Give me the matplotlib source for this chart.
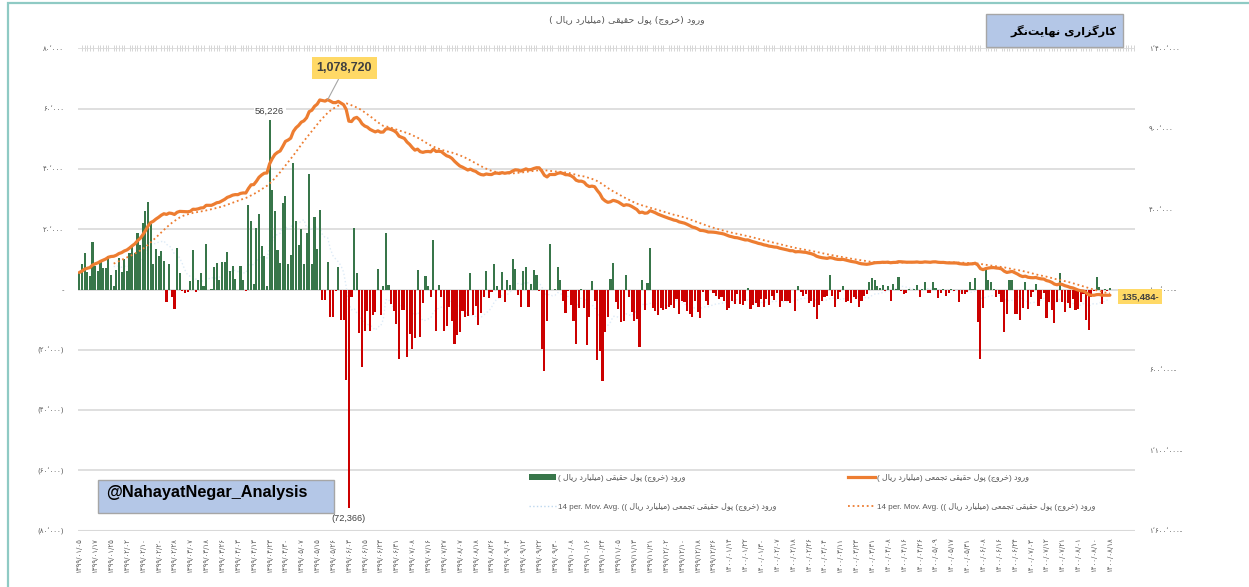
import numpy as np
import pandas as pd
import matplotlib
matplotlib.use('Agg')
import matplotlib.pyplot as plt
from matplotlib.patches import Patch, Rectangle
from matplotlib.lines import Line2D

plt.rcParams['font.family'] = ['DejaVu Sans']

# ---------------- data (billion rials, in thousands) ----------------
flow_k = [
    5.7, 8.6, 12, 5.7, 4.4, 15.6, 7.7, 6, 9.5, 7.2,
    7.2, 11, 4.7, 1.3, 6.5, 10.5, 5.7, 10.2, 6.3, 12,
    14, 12, 18.9, 14.8, 22, 26, 29, 21.8, 8.3, 13.5,
    11, 12.7, 9.4, -4.2, 8.5, -2.5, -6.4, 13.7, 5.4, -0.5,
    -1, -0.8, 2.8, 13, -0.8, 3.2, 5.6, 1.3, 15, -0.3,
    0.2, 7.4, 8.7, 3, 9, 9, 12.4, 6, 7.8, 3.4,
    -0.3, 7.8, 3, -0.4, 28, 22.6, 1.7, 20.5, 25, 14.3,
    11, 1.3, 56.226, 33, 25.9, 13.1, 8.7, 28.6, 31, 8.3,
    11.6, 42, 22.7, 14.7, 20.2, 8.5, 18.8, 38.4, 8.5, 24.2,
    13.3, 26.394,
    -3.6, -3.6, 9.2, -9.1, -9.1, -0.4, 7.5, -10.2, -10.2, -29.9,
    -72.366, -2.4, 20.3, 5.6, -14.3, -25.8, -13.6, -7.1, -13.6, -8.5,
    -7.4, 6.7, -8.6, 1.2, 18.9, 1.6, -4.9, -7.1, -11.6, -23.2,
    -6.8, -6.8, -22.4, -14.7, -19.6, -16.2, 6.4, -15.8, -4.4, 4.4,
    1.1, -2.4, 16.3, -13.8, 1.4, -2.4, -13.6, -12.1, -5.7, -10.5,
    -18.2, -15.1, -14.1, -7.1, -9.1, -8.8, 5.4, -8.6, -5.5, -11.9,
    -7.7, -2.5, 6.1, -2.9, -0.8,
    8.3, 1, -2.8, 5.8, -4.3, 3, 1.6, 10, 6.9, -1.8,
    -5.9, 6.1, 7.4, -5.9, 1.9, 6.6, 4.7, -0.5, -19.7, -26.9,
    -10.3, 15.2, -0.3, 0.3, 7.4, 3.2, -3.9, -7.8, -0.6, -5.3,
    -10.5, -18, -6.1, 0.2, -6.1, -18.3, -9.2, 2.7, -3.7, -23.4,
    -20.3, -30.2, -14.2, -9, 3.5, 8.9, -4.2, -6.4, -10.9, -10.5,
    4.7, -2.5, -7.5, -10.3, -9.8, -19.2, 3.2, -6.8, 2.1, 13.7,
    -6.1, -7, -8.6, -6.1, -6.8, -6.4, -5.9, -5.3, -6.1, -3.1,
    -8.1, -3.7, -4.2, -7.2, -8.1, -9, -3.9, -7.5, -9.4,
    -0.9, -3.7, -5.3, -0.3, -1.0, -2.0, -3.3, -2.5, -3.9, -6.8,
    -6.1, -3.7, -4.8, -1.4, -4.8, -5.0, -3.9, 0.5, -6.4, -5.3,
    -4.5, -5.7, -3.1, -5.7, -3.1, -5.0, -2.3, -3.4, -1.2, -5.9,
    -3.7, -3.7, -3.7, -4.5, -0.3, -7.0, 1.3, -0.9, -2.3, -1.4,
    -4.5, -3.7, -5.9, -9.8, -5.3, -3.7, -2.5, -2.0, 4.7, -2.0,
    -5.7, -3.1, -0.9, 1.0, -4.2, -3.7, -4.5, -2.5, -3.1, -5.7,
    -3.7, -2.0, -1.4, 2.4, 3.8, 3.2, 1.3, 0.5, 1.6, -0.6,
    1.3, -3.7, 1.9, 0.3, 4.3, -0.6, -1.4, -1.2,
    0.3, -0.3, 0.2, 1.4, -2.4, 0.3, 2.5, -1.3, -1.3, 2.5,
    0.5, -2.8, -1.1, 0.3, -2.2, -1.1, 0.2, -0.4, -0.3, -4.1,
    -1.6, -1.5, -0.8, 2.5, 0.2, 3.9, -10.7, -22.9, -6.3, 6.6,
    3.3, 2.5, 0.3, -2.4, -1.6, -4.1,
    -14.1, -8, 3.3, 3.3, -8, -8, -10.2, -6, 2.5, -6.6,
    -2.4, -0.8, 1.7, -5.5, -3, -1.3, -9.3, -4.1, -6.9, -11.1,
    -4.1, 5.5, -4.1, -7.4, -4.4, -6.3, -3, -6.9, -6.6, -4.1,
    -1.6, -10, -13.5,
    -2.4, -0.5, 4.0, 0.8, -4.7, 0.3, -0.4, 0.4,
]

date_labels = [
    '1399/01/05', '1399/01/17', '1399/01/25', '1399/02/02', '1399/02/10', '1399/02/20',
    '1399/02/28', '1399/03/07', '1399/03/18', '1399/03/26', '1399/04/03', '1399/04/13',
    '1399/04/23', '1399/04/30', '1399/05/07', '1399/05/15', '1399/05/26', '1399/06/03',
    '1399/06/15', '1399/06/23', '1399/06/31', '1399/07/08', '1399/07/16', '1399/07/27',
    '1399/08/07', '1399/08/18', '1399/08/26', '1399/09/04', '1399/09/12', '1399/09/22',
    '1399/09/30', '1399/10/08', '1399/10/16', '1399/10/24', '1399/11/05', '1399/11/13',
    '1399/11/21', '1399/12/02', '1399/12/10', '1399/12/18', '1399/12/26', '1400/01/14',
    '1400/01/22', '1400/01/30', '1400/02/07', '1400/02/18', '1400/02/26', '1400/03/04',
    '1400/03/11', '1400/03/23', '1400/03/31', '1400/04/08', '1400/04/16', '1400/04/26',
    '1400/05/09', '1400/05/17', '1400/05/31', '1400/06/08', '1400/06/16', '1400/06/24',
    '1400/07/03', '1400/07/12', '1400/07/21', '1400/08/01', '1400/08/10', '1400/08/18',
]
label_step = 6

left_ticks = [-80000, -60000, -40000, -20000, 0, 20000, 40000, 60000, 80000]
right_ticks = [-1600000, -1100000, -600000, -100000, 400000, 900000, 1400000]

title_txt = 'ورود (خروج) پول حقیقی (میلیارد ریال )'
bar_name = 'ورود (خروج) پول حقیقی (میلیارد ریال )'
cum_name = 'ورود (خروج) پول حقیقی تجمعی (میلیارد ریال )'
ma_name = 'ورود (خروج) پول حقیقی تجمعی (میلیارد ریال ))'
ma_prefix = '14 per. Mov. Avg. '
brand_txt = 'کارگزاری نهایت\u200cنگر'
handle_txt = '@NahayatNegar_Analysis'
peak_text = '1,078,720'
end_text = '135,484-'
ma_window = 14

# ---------------- Persian shaping helpers ----------------
FORMS = {
    'ا': ('\uFE8D', '\uFE8E', None, None),
    'د': ('\uFEA9', '\uFEAA', None, None),
    'ر': ('\uFEAD', '\uFEAE', None, None),
    'ز': ('\uFEAF', '\uFEB0', None, None),
    'و': ('\uFEED', '\uFEEE', None, None),
    'پ': ('\uFB56', '\uFB57', '\uFB58', '\uFB59'),
    'ت': ('\uFE95', '\uFE96', '\uFE97', '\uFE98'),
    'ج': ('\uFE9D', '\uFE9E', '\uFE9F', '\uFEA0'),
    'ح': ('\uFEA1', '\uFEA2', '\uFEA3', '\uFEA4'),
    'خ': ('\uFEA5', '\uFEA6', '\uFEA7', '\uFEA8'),
    'ع': ('\uFEC9', '\uFECA', '\uFECB', '\uFECC'),
    'ق': ('\uFED5', '\uFED6', '\uFED7', '\uFED8'),
    'ک': ('\uFB8E', '\uFB8F', '\uFB90', '\uFB91'),
    'گ': ('\uFB92', '\uFB93', '\uFB94', '\uFB95'),
    'ل': ('\uFEDD', '\uFEDE', '\uFEDF', '\uFEE0'),
    'م': ('\uFEE1', '\uFEE2', '\uFEE3', '\uFEE4'),
    'ن': ('\uFEE5', '\uFEE6', '\uFEE7', '\uFEE8'),
    'ه': ('\uFEE9', '\uFEEA', '\uFEEB', '\uFEEC'),
    'ی': ('\uFBFC', '\uFBFD', '\uFBFE', '\uFBFF'),
}


def shape(s):
    out = []
    for k, ch in enumerate(s):
        if ch == '\u200c':
            continue
        if ch not in FORMS:
            out.append(ch)
            continue
        f = FORMS[ch]
        prev = s[k - 1] if k > 0 else ''
        nxt = s[k + 1] if k < len(s) - 1 else ''
        jp = prev in FORMS and FORMS[prev][2] is not None
        jn = f[2] is not None and nxt in FORMS
        if jp and jn:
            out.append(f[3])
        elif jp:
            out.append(f[1])
        elif jn:
            out.append(f[2])
        else:
            out.append(f[0])
    return ''.join(out)


def rtl(s):
    mirror = {'(': ')', ')': '('}
    return ''.join(mirror.get(c, c) for c in reversed(shape(s)))


FA = str.maketrans('0123456789,', '۰۱۲۳۴۵۶۷۸۹٬')


def fa_num(v):
    return f'{v:,.0f}'.translate(FA)


def left_fmt(v):
    if v > 0:
        return fa_num(v)
    if v == 0:
        return '-'
    return '(' + fa_num(-v) + ')'


def right_fmt(v):
    return fa_num(v) if v >= 0 else fa_num(-v) + '-'


# ---------------- derived series ----------------
flow = np.array(flow_k) * 1000.0
cum = np.cumsum(flow)
cum_ma = pd.Series(cum).rolling(ma_window).mean().to_numpy()
flow_ma = pd.Series(flow).rolling(ma_window).mean().to_numpy()
idx = np.arange(len(flow))

GREEN = '#38764A'
RED = '#CC0000'
ORANGE = '#ED7D31'
GRID = '#D9D9D9'
TXT = '#595959'

W, H = 1249, 587
fig = plt.figure(figsize=(W / 100, H / 100), dpi=100)


def fx(px):
    return px / W


def fy(py):
    return 1 - py / H


L, R, T, B = 78, 1135, 48.3, 530.7
ax = fig.add_axes([fx(L), fy(B), (R - L) / W, (B - T) / H])

colors = np.where(flow >= 0, GREEN, RED)
ax.plot(idx, flow_ma, color='#DDEBF7', lw=1, ls=':', zorder=1)
ax.bar(idx, flow, width=0.8, color=colors, linewidth=0, zorder=2)

ax.set_xlim(-0.5, 399.5)
ax.set_ylim(-80000, 80000)
ax.set_yticks(left_ticks)
ax.set_yticklabels([left_fmt(v) for v in left_ticks])
ax.yaxis.grid(True, color=GRID, lw=1.2)
ax.set_axisbelow(True)
ax.axhline(-80000, color=GRID, lw=2.2, zorder=0)
for sp in ax.spines.values():
    sp.set_visible(False)

tick_pos = idx[::label_step][:len(date_labels)]
ax.set_xticks(tick_pos)
ax.set_xticklabels([d.translate(FA) for d in date_labels], rotation=90)
ax.set_xticks(np.arange(0, 400), minor=True)
ax.tick_params(axis='x', which='major', length=0, pad=5, labelsize=5, colors=TXT)
ax.tick_params(axis='x', which='minor', bottom=False, top=True, length=4,
               width=0.6, color='#CFCFCF', direction='inout')
ax.tick_params(axis='y', length=0, pad=10, labelsize=5, colors=TXT)

ax2 = ax.twinx()
ax2.set_ylim(-1600000, 1400000)
ax2.set_yticks(right_ticks)
ax2.set_yticklabels([right_fmt(v) for v in right_ticks])
ax2.tick_params(axis='y', length=0, pad=10, labelsize=5, colors=TXT)
for sp in ax2.spines.values():
    sp.set_visible(False)

ax2.plot(idx, cum_ma, color=ORANGE, lw=1.3, ls=(0, (1, 1.6)), zorder=3)
ax2.plot(idx, cum, color=ORANGE, lw=2.3, solid_capstyle='round', zorder=4)

# data labels
i56 = int(np.argmax(flow))
ax.annotate(f'{flow[i56]:,.0f}', xy=(i56, flow[i56]), xytext=(0, 6.5), textcoords='offset points',
            ha='center', va='center', fontsize=6.8, color='#404040', family=['Liberation Sans'],
            bbox=dict(boxstyle='square,pad=0.15', fc='white', ec='none'), zorder=5)
imin = int(np.argmin(flow))
ax.annotate(f'({-flow[imin]:,.0f})', xy=(imin, flow[imin]), xytext=(0, -8), textcoords='offset points',
            ha='center', va='center', fontsize=6.6, color='#404040', family=['Liberation Sans'],
            annotation_clip=False, zorder=5)
ipk = int(np.argmax(cum))
ax2.annotate(peak_text, xy=(ipk, cum[ipk]), xytext=(12, 22.7), textcoords='offset points',
             ha='center', va='center', fontsize=9, fontweight='bold', color='#404040',
             family=['Liberation Sans'],
             bbox=dict(boxstyle='square,pad=0.4', fc='#FFD966', ec='none'),
             arrowprops=dict(arrowstyle='-', color='#A6A6A6', lw=0.8, shrinkA=0, shrinkB=0),
             zorder=6)
ax2.annotate(end_text, xy=(idx[-1], cum[-1]), xytext=(21.5, -1), textcoords='offset points',
             ha='center', va='center', fontsize=6.8, fontweight='bold', color='#404040',
             family=['Liberation Sans'], annotation_clip=False,
             bbox=dict(boxstyle='square,pad=0.35', fc='#FFD966', ec='none'), zorder=6)

# legends
fam = ['Liberation Sans', 'DejaVu Sans']
leg_kw = dict(loc='upper left', bbox_transform=fig.transFigure, frameon=False,
              prop={'size': 5.8, 'family': fam}, handlelength=3.3, handletextpad=0.3,
              labelspacing=2.6, borderpad=0, borderaxespad=0, labelcolor=TXT)
leg1 = ax2.legend(handles=[Patch(fc=GREEN, ec='none'),
                           Line2D([], [], color='#BDD7EE', lw=1, ls=':')],
                  labels=[rtl(bar_name), ma_prefix + rtl(ma_name)],
                  bbox_to_anchor=(fx(529), fy(474)), **leg_kw)
ax2.add_artist(leg1)
leg2 = ax2.legend(handles=[Line2D([], [], color=ORANGE, lw=2.3),
                           Line2D([], [], color=ORANGE, lw=1.3, ls=(0, (1, 1.6)))],
                  labels=[rtl(cum_name), ma_prefix + rtl(ma_name)],
                  bbox_to_anchor=(fx(848), fy(474)), **leg_kw)

# title
fig.text(fx(627), fy(20), rtl(title_txt), ha='center', va='center', fontsize=6.8, color=TXT)

# brand box
fig.add_artist(Rectangle((fx(986), fy(47)), (1123 - 986) / W, (47 - 14) / H,
                         transform=fig.transFigure, fc='#B4C7E7', ec='#A6A6A6', lw=1, zorder=5))
fig.text(fx(1116), fy(31), rtl(brand_txt), ha='right', va='center', fontsize=8.2,
         fontweight='bold', color='black', zorder=6)

# handle box
fig.add_artist(Rectangle((fx(98), fy(513)), (334 - 98) / W, (513 - 480) / H,
                         transform=fig.transFigure, fc='#B4C7E7', ec='#A6A6A6', lw=1, zorder=5))
fig.text(fx(106), fy(493), handle_txt, ha='left', va='center', fontsize=11.7,
         fontweight='bold', color='black', family=['Liberation Sans'], zorder=6)

# outer border
fig.add_artist(Rectangle((fx(8), fy(620)), (1300 - 8) / W, (620 - 3) / H,
                         transform=fig.transFigure, fill=False, ec='#8FCAC4', lw=1.6, zorder=10))

fig.savefig('out.png', dpi=100)
